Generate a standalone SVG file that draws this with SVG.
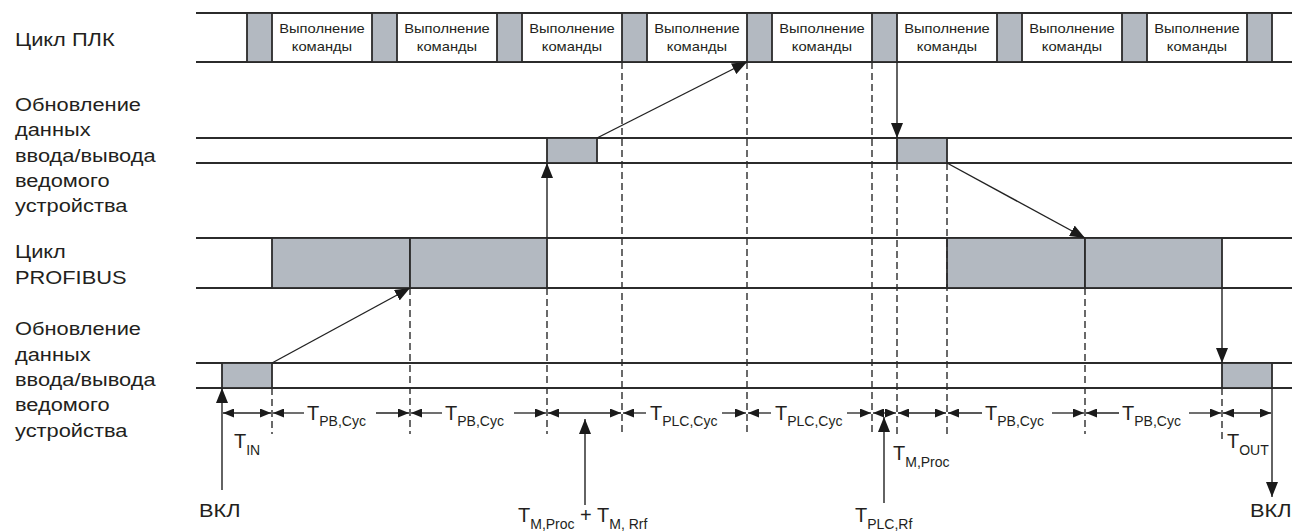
<svg xmlns="http://www.w3.org/2000/svg" width="1292" height="531" viewBox="0 0 1292 531">
<style>
.bg{fill:#ffffff}
.ln{stroke:#2b2b2b;stroke-width:1.8;fill:none}
.gr{fill:#b3b9c1;stroke:#2b2b2b;stroke-width:1.8}
.ds{stroke:#2b2b2b;stroke-width:1.4;stroke-dasharray:7,4;fill:none}
.cn{stroke:#222;stroke-width:1.4;fill:none}
.ms{stroke:#222;stroke-width:1.3;fill:none}
.lbl{font-family:"Liberation Sans",Arial,sans-serif;font-size:18.5px;fill:#231f20}
.box{font-family:"Liberation Sans",Arial,sans-serif;font-size:12.8px;fill:#231f20;text-anchor:middle}
.t{font-family:"Liberation Sans",Arial,sans-serif;font-size:20px;fill:#231f20}
.sub{font-size:14px}
</style>
<defs>
<marker id="ah" markerUnits="userSpaceOnUse" markerWidth="16" markerHeight="12" refX="15" refY="6" orient="auto-start-reverse">
<path d="M0,0 L15,6 L0,12 z" fill="#1a1a1a"/>
</marker>
<marker id="mh" markerUnits="userSpaceOnUse" markerWidth="12" markerHeight="9" refX="11" refY="4.5" orient="auto-start-reverse">
<path d="M0,0 L11,4.5 L0,9 z" fill="#1a1a1a"/>
</marker>
</defs>
<rect class="bg" x="0" y="0" width="1292" height="531"/>

<g id="labels">
<text class="lbl" transform="translate(15,46) scale(1.18,1)">Цикл ПЛК</text>
<text class="lbl" transform="translate(15,111) scale(1.18,1)">Обновление</text>
<text class="lbl" transform="translate(15,136) scale(1.18,1)">данных</text>
<text class="lbl" transform="translate(15,162) scale(1.18,1)">ввода/вывода</text>
<text class="lbl" transform="translate(15,187) scale(1.18,1)">ведомого</text>
<text class="lbl" transform="translate(15,212) scale(1.18,1)">устройства</text>
<text class="lbl" transform="translate(15,258) scale(1.18,1)">Цикл</text>
<text class="lbl" transform="translate(15,284) scale(1.18,1)">PROFIBUS</text>
<text class="lbl" transform="translate(15,335) scale(1.18,1)">Обновление</text>
<text class="lbl" transform="translate(15,361) scale(1.18,1)">данных</text>
<text class="lbl" transform="translate(15,386) scale(1.18,1)">ввода/вывода</text>
<text class="lbl" transform="translate(15,411) scale(1.18,1)">ведомого</text>
<text class="lbl" transform="translate(15,437) scale(1.18,1)">устройства</text>
</g>

<g id="plc-cycle">
<line class="ln" x1="196" y1="13" x2="1292" y2="13"/>
<line class="ln" x1="196" y1="62" x2="1292" y2="62"/>
<rect class="gr" x="247" y="13" width="25" height="49"/>
<rect class="gr" x="372" y="13" width="25" height="49"/>
<rect class="gr" x="497" y="13" width="25" height="49"/>
<rect class="gr" x="622" y="13" width="25" height="49"/>
<rect class="gr" x="747" y="13" width="25" height="49"/>
<rect class="gr" x="872" y="13" width="25" height="49"/>
<rect class="gr" x="997" y="13" width="25" height="49"/>
<rect class="gr" x="1122" y="13" width="25" height="49"/>
<rect class="gr" x="1247" y="13" width="25" height="49"/>
<text class="box" transform="translate(322,33) scale(1.15,1)">Выполнение</text>
<text class="box" transform="translate(322,51) scale(1.15,1)">команды</text>
<text class="box" transform="translate(447,33) scale(1.15,1)">Выполнение</text>
<text class="box" transform="translate(447,51) scale(1.15,1)">команды</text>
<text class="box" transform="translate(572,33) scale(1.15,1)">Выполнение</text>
<text class="box" transform="translate(572,51) scale(1.15,1)">команды</text>
<text class="box" transform="translate(697,33) scale(1.15,1)">Выполнение</text>
<text class="box" transform="translate(697,51) scale(1.15,1)">команды</text>
<text class="box" transform="translate(822,33) scale(1.15,1)">Выполнение</text>
<text class="box" transform="translate(822,51) scale(1.15,1)">команды</text>
<text class="box" transform="translate(947,33) scale(1.15,1)">Выполнение</text>
<text class="box" transform="translate(947,51) scale(1.15,1)">команды</text>
<text class="box" transform="translate(1072,33) scale(1.15,1)">Выполнение</text>
<text class="box" transform="translate(1072,51) scale(1.15,1)">команды</text>
<text class="box" transform="translate(1197,33) scale(1.15,1)">Выполнение</text>
<text class="box" transform="translate(1197,51) scale(1.15,1)">команды</text>
</g>

<g id="slave-io-update-1">
<line class="ln" x1="196" y1="138" x2="1292" y2="138"/>
<line class="ln" x1="196" y1="163" x2="1292" y2="163"/>
<rect class="gr" x="547" y="138" width="50" height="25"/>
<rect class="gr" x="897" y="138" width="50" height="25"/>
</g>

<g id="profibus-cycle">
<line class="ln" x1="196" y1="238" x2="1292" y2="238"/>
<line class="ln" x1="196" y1="288" x2="1292" y2="288"/>
<rect class="gr" x="272" y="238" width="138" height="50"/>
<rect class="gr" x="410" y="238" width="137" height="50"/>
<rect class="gr" x="947" y="238" width="138" height="50"/>
<rect class="gr" x="1085" y="238" width="137" height="50"/>
</g>

<g id="slave-io-update-2">
<line class="ln" x1="196" y1="363" x2="1292" y2="363"/>
<line class="ln" x1="196" y1="388" x2="1292" y2="388"/>
<rect class="gr" x="222" y="363" width="50" height="25"/>
<rect class="gr" x="1222" y="363" width="50" height="25"/>
</g>

<g id="guides">
<line class="ds" x1="272" y1="388" x2="272" y2="434"/>
<line class="ds" x1="410" y1="288" x2="410" y2="434"/>
<line class="ds" x1="547" y1="288" x2="547" y2="434"/>
<line class="ds" x1="622" y1="62" x2="622" y2="434"/>
<line class="ds" x1="747" y1="62" x2="747" y2="434"/>
<line class="ds" x1="872" y1="62" x2="872" y2="434"/>
<line class="ds" x1="897" y1="163" x2="897" y2="438"/>
<line class="ds" x1="947" y1="163" x2="947" y2="438"/>
<line class="ds" x1="1085" y1="288" x2="1085" y2="434"/>
<line class="ds" x1="1222" y1="388" x2="1222" y2="440"/>
</g>

<g id="connectors">
<line class="cn" x1="272" y1="363" x2="410" y2="288" marker-end="url(#ah)"/>
<line class="cn" x1="547" y1="238" x2="547" y2="163" marker-end="url(#ah)"/>
<line class="cn" x1="597" y1="138" x2="747" y2="62" marker-end="url(#ah)"/>
<line class="cn" x1="897" y1="62" x2="897" y2="138" marker-end="url(#ah)"/>
<line class="cn" x1="947" y1="163" x2="1085" y2="238" marker-end="url(#ah)"/>
<line class="cn" x1="1222" y1="288" x2="1222" y2="363" marker-end="url(#ah)"/>
<line class="cn" x1="222" y1="490" x2="222" y2="388" marker-end="url(#ah)"/>
<line class="cn" x1="1272" y1="388" x2="1272" y2="497" marker-end="url(#ah)"/>
<line class="cn" x1="585" y1="505" x2="585" y2="419" marker-end="url(#ah)"/>
<line class="cn" x1="884" y1="503" x2="884" y2="417" marker-end="url(#ah)"/>
</g>

<g id="measures">
<line class="ms" x1="223" y1="413" x2="271" y2="413" marker-start="url(#mh)" marker-end="url(#mh)"/>
<line class="ms" x1="273" y1="413" x2="304" y2="413" marker-start="url(#mh)"/>
<line class="ms" x1="376" y1="413" x2="409" y2="413" marker-end="url(#mh)"/>
<line class="ms" x1="411" y1="413" x2="442" y2="413" marker-start="url(#mh)"/>
<line class="ms" x1="514" y1="413" x2="546" y2="413" marker-end="url(#mh)"/>
<line class="ms" x1="548" y1="413" x2="621" y2="413" marker-start="url(#mh)" marker-end="url(#mh)"/>
<line class="ms" x1="623" y1="413" x2="646" y2="413" marker-start="url(#mh)"/>
<line class="ms" x1="722" y1="413" x2="746" y2="413" marker-end="url(#mh)"/>
<line class="ms" x1="748" y1="413" x2="771" y2="413" marker-start="url(#mh)"/>
<line class="ms" x1="847" y1="413" x2="871" y2="413" marker-end="url(#mh)"/>
<line class="ms" x1="873" y1="413" x2="896" y2="413" marker-start="url(#mh)" marker-end="url(#mh)"/>
<line class="ms" x1="898" y1="413" x2="946" y2="413" marker-start="url(#mh)" marker-end="url(#mh)"/>
<line class="ms" x1="948" y1="413" x2="982" y2="413" marker-start="url(#mh)"/>
<line class="ms" x1="1052" y1="413" x2="1084" y2="413" marker-end="url(#mh)"/>
<line class="ms" x1="1086" y1="413" x2="1119" y2="413" marker-start="url(#mh)"/>
<line class="ms" x1="1189" y1="413" x2="1221" y2="413" marker-end="url(#mh)"/>
<line class="ms" x1="1223" y1="413" x2="1271" y2="413" marker-start="url(#mh)" marker-end="url(#mh)"/>

<text class="t" x="307" y="420">T<tspan class="sub" dy="6">PB,Cyc</tspan></text>
<text class="t" x="445" y="420">T<tspan class="sub" dy="6">PB,Cyc</tspan></text>
<text class="t" x="650" y="420">T<tspan class="sub" dy="6">PLC,Cyc</tspan></text>
<text class="t" x="775" y="420">T<tspan class="sub" dy="6">PLC,Cyc</tspan></text>
<text class="t" x="985" y="420">T<tspan class="sub" dy="6">PB,Cyc</tspan></text>
<text class="t" x="1122" y="420">T<tspan class="sub" dy="6">PB,Cyc</tspan></text>
<text class="t" x="234" y="448">T<tspan class="sub" dy="7">IN</tspan></text>
<text class="t" x="1227" y="448">T<tspan class="sub" dy="7">OUT</tspan></text>
<text class="t" x="893" y="460">T<tspan class="sub" dy="7">M,Proc</tspan></text>
<text class="t" x="855" y="522">T<tspan class="sub" dy="7">PLC,Rf</tspan></text>
<text class="t" x="518" y="522">T<tspan class="sub" dy="7">M,Proc</tspan><tspan dy="-7"> + T</tspan><tspan class="sub" dy="7">M, Rrf</tspan></text>
<text class="lbl" transform="translate(199,517) scale(1.18,1)">ВКЛ</text>
<text class="lbl" transform="translate(1250,517) scale(1.18,1)">ВКЛ</text>
</g>
</svg>
